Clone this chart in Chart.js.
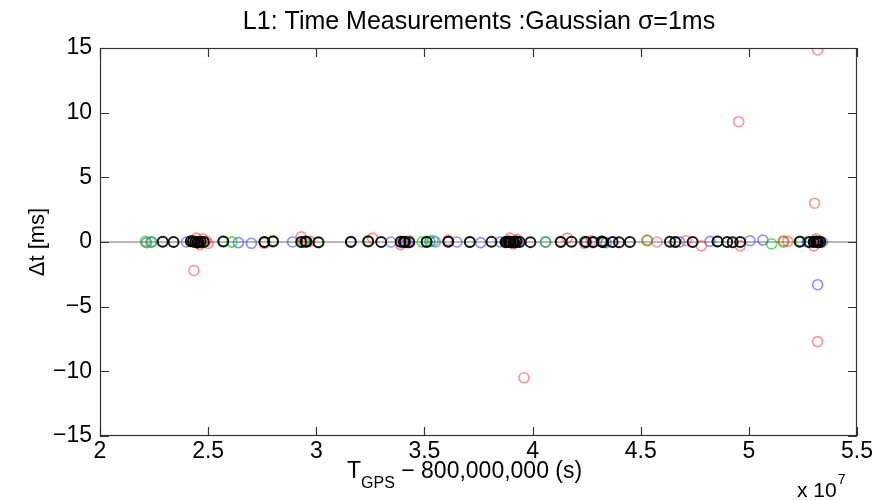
<!DOCTYPE html>
<html><head><meta charset="utf-8">
<script src="https://cdn.jsdelivr.net/npm/chart.js@4.4.1/dist/chart.umd.min.js"></script>
<style>html,body{margin:0;padding:0;background:#fff}#wrap{width:890px;height:500px;position:relative}</style>
</head><body><div id="wrap"><canvas id="c" width="890" height="500"></canvas></div>
<script>
const titleText = 'L1: Time Measurements :Gaussian σ=1ms';
const yLabelText = 'Δt [ms]';
const xTicks = [2, 2.5, 3, 3.5, 4, 4.5, 5, 5.5];
const yTicks = [-15, -10, -5, 0, 5, 10, 15];

// T_GPS - 800,000,000 in units of 1e7 s ; Δt in ms
const blackT = [2.29, 2.34, 2.42, 2.44, 2.45, 2.465, 2.48, 2.57, 2.76, 2.80,
  2.93, 2.955, 3.01, 3.16, 3.24, 3.30, 3.39, 3.41, 3.43, 3.51,
  3.61, 3.71, 3.81, 3.875, 3.89, 3.90, 3.91, 3.925, 3.94, 3.99,
  4.13, 4.18, 4.245, 4.28, 4.32, 4.37, 4.40, 4.45, 4.635, 4.66,
  4.74, 4.855, 4.90, 4.925, 4.96, 5.235, 5.30, 5.31, 5.32, 5.33,
  2.43, 2.455, 3.88, 3.895, 3.915, 5.28, 5.315, 4.325, 3.405, 2.95];
const blackDt = [0.02, 0.0, 0.05, 0.0, -0.03, 0.02, 0.0, 0.03, 0.0, 0.04,
  0.0, 0.02, -0.02, 0.0, 0.03, 0.0, 0.02, 0.0, -0.02, 0.0,
  0.02, 0.0, 0.01, 0.0, 0.03, -0.02, 0.0, 0.04, 0.0, -0.01,
  0.0, 0.02, 0.0, 0.0, 0.03, 0.0, -0.02, 0.0, 0.02, 0.0,
  0.0, 0.03, 0.0, -0.02, 0.0, 0.02, 0.0, 0.03, -0.01, 0.0,
  0.03, -0.02, 0.0, 0.02, -0.03, 0.0, 0.02, -0.01, 0.0, 0.03];

const redT = [2.43, 2.445, 2.46, 2.475, 2.49, 2.50, 2.76, 2.93, 2.97, 3.26,
  3.39, 3.43, 3.61, 3.895, 3.91, 3.93, 4.13, 4.16, 4.24, 4.27,
  4.53, 4.575, 4.71, 4.78, 4.96, 5.16, 5.18, 5.30, 5.31, 5.325,
  2.434, 3.96, 4.953, 5.304, 5.318, 5.318];
const redDt = [0.1, 0.3, -0.2, 0.25, 0.05, -0.1, -0.1, 0.4, 0.05, 0.3,
  -0.2, 0.1, 0.15, 0.3, -0.15, 0.2, 0.05, 0.3, -0.1, 0.1,
  0.15, 0.0, 0.1, -0.3, -0.3, 0.1, 0.05, -0.3, 0.25, 0.1,
  -2.2, -10.5, 9.3, 3.0, 14.85, -7.7];

const greenT = [2.21, 2.235, 2.57, 2.61, 2.80, 2.94, 3.01, 3.24, 3.49, 3.51,
  3.54, 3.71, 3.875, 4.06, 4.32, 4.53, 4.66, 4.855, 5.105, 5.16,
  5.24, 5.30, 2.445, 2.47, 3.90, 3.92, 4.33, 5.32, 3.40, 2.76, 4.24];
const greenDt = [0.05, 0.0, 0.05, 0.0, 0.1, 0.0, -0.05, 0.1, 0.0, 0.05,
  0.1, 0.0, -0.05, 0.0, 0.05, 0.1, 0.0, 0.05, -0.15, 0.0,
  0.05, 0.0, 0.05, -0.05, 0.0, 0.05, 0.0, -0.05, 0.05, 0.0, 0.05];

const blueT = [2.215, 2.24, 2.40, 2.64, 2.70, 2.89, 3.16, 3.345, 3.61, 3.65,
  3.76, 3.85, 4.06, 4.28, 4.32, 4.68, 4.82, 5.005, 5.065, 5.27,
  5.32, 5.34, 5.318, 2.455, 3.42, 3.885, 3.93, 4.25, 4.34, 5.30,
  5.33, 3.525, 3.55];
const blueDt = [-0.05, 0.0, 0.0, -0.05, -0.1, 0.0, 0.05, 0.0, 0.05, 0.0,
  -0.05, 0.0, 0.0, -0.05, 0.0, 0.0, 0.05, 0.1, 0.15, 0.0,
  0.0, 0.0, -3.3, 0.0, -0.05, 0.05, 0.0, 0.0, -0.05, 0.05,
  0.0, 0.05, 0.0];

const zeroLineT = [2, 5.5];
const zeroLineDt = [0, 0];

function pts(t, d) { return t.map((v, i) => ({ x: v, y: d[i] })); }
const FONT = '"Liberation Sans", Arial, Helvetica, sans-serif';
const fmt = v => (v < 0 ? '\u2212' + Math.abs(v) : String(v));

function marker(color, w) {
  return { type: 'scatter', pointStyle: 'circle', pointRadius: 5, pointHoverRadius: 5,
    pointBorderWidth: w, pointBackgroundColor: 'rgba(0,0,0,0)', pointBorderColor: color,
    borderColor: color, backgroundColor: 'rgba(0,0,0,0)', showLine: false };
}

const boxPlugin = {
  id: 'matlabBox',
  afterDraw(chart) {
    const ctx = chart.ctx, a = chart.chartArea;
    const xs = chart.scales.x, ys = chart.scales.y;
    ctx.save();
    ctx.strokeStyle = '#333';
    ctx.lineWidth = 1.2;
    ctx.strokeRect(a.left + 0.5, a.top + 0.5, a.right - a.left - 1, a.bottom - a.top - 1);
    const L = 9;
    ctx.beginPath();
    xTicks.forEach(v => {
      const px = Math.round(xs.getPixelForValue(v)) + 0.5;
      ctx.moveTo(px, a.bottom); ctx.lineTo(px, a.bottom - L);
      ctx.moveTo(px, a.top); ctx.lineTo(px, a.top + L);
    });
    yTicks.forEach(v => {
      const py = Math.round(ys.getPixelForValue(v)) + 0.5;
      ctx.moveTo(a.left, py); ctx.lineTo(a.left + L, py);
      ctx.moveTo(a.right, py); ctx.lineTo(a.right - L, py);
    });
    ctx.stroke();

    ctx.fillStyle = '#000';
    // title
    ctx.font = '25px ' + FONT;
    ctx.textAlign = 'center'; ctx.textBaseline = 'alphabetic';
    ctx.fillText(titleText, 479, 29);
    // y label
    ctx.save();
    ctx.translate(38, 242);
    ctx.rotate(-Math.PI / 2);
    ctx.font = '22px ' + FONT;
    ctx.textAlign = 'center'; ctx.textBaseline = 'middle';
    ctx.fillText(yLabelText, 0, 0);
    ctx.restore();
    // x label
    ctx.textAlign = 'left';
    let x = 347;
    ctx.font = '23px ' + FONT;
    ctx.fillText('T', x, 478); x += ctx.measureText('T').width;
    ctx.font = '16px ' + FONT;
    ctx.fillText('GPS', x, 488); x += ctx.measureText('GPS').width;
    ctx.font = '23px ' + FONT;
    ctx.fillText(' \u2212 800,000,000 (s)', x, 478);
    // multiplier
    x = 797;
    ctx.font = '21px ' + FONT;
    ctx.fillText('x 10', x, 497); x += ctx.measureText('x 10').width;
    ctx.font = '14px ' + FONT;
    ctx.fillText('7', x + 1, 484);
    ctx.restore();
  }
};

new Chart(document.getElementById('c'), {
  type: 'scatter',
  data: {
    datasets: [
      Object.assign({ label: 'black', data: pts(blackT, blackDt) }, marker('rgba(0,0,0,0.9)', 2)),
      Object.assign({ label: 'red', data: pts(redT, redDt) }, marker('rgba(255,40,40,0.5)', 1.6)),
      Object.assign({ label: 'green', data: pts(greenT, greenDt) }, marker('rgba(0,200,0,0.6)', 1.8)),
      Object.assign({ label: 'blue', data: pts(blueT, blueDt) }, marker('rgba(30,30,255,0.5)', 1.6)),
      { label: 'zero', type: 'scatter', data: pts(zeroLineT, zeroLineDt), showLine: true,
        borderColor: '#6e6e6e', borderWidth: 1, pointRadius: 0, pointHoverRadius: 0 }
    ]
  },
  options: {
    responsive: false, animation: false, devicePixelRatio: 1,
    layout: { padding: { left: 0, right: 33, top: 48, bottom: 0 } },
    plugins: { legend: { display: false }, title: { display: false }, tooltip: { enabled: false } },
    scales: {
      x: {
        type: 'linear', min: 2, max: 5.5,
        afterBuildTicks: s => { s.ticks = xTicks.map(v => ({ value: v })); },
        afterFit: s => { s.height = 64; },
        grid: { display: false, drawTicks: false }, border: { display: false },
        ticks: { font: { family: FONT, size: 23 }, color: '#000', padding: 2, callback: fmt, maxRotation: 0, autoSkip: false }
      },
      y: {
        type: 'linear', min: -15, max: 15,
        afterBuildTicks: s => { s.ticks = yTicks.map(v => ({ value: v })); },
        afterFit: s => { s.width = 100; },
        grid: { display: false, drawTicks: false }, border: { display: false },
        ticks: { font: { family: FONT, size: 23 }, color: '#000', padding: 8, callback: fmt, autoSkip: false }
      }
    }
  },
  plugins: [boxPlugin]
});
</script></body></html>
